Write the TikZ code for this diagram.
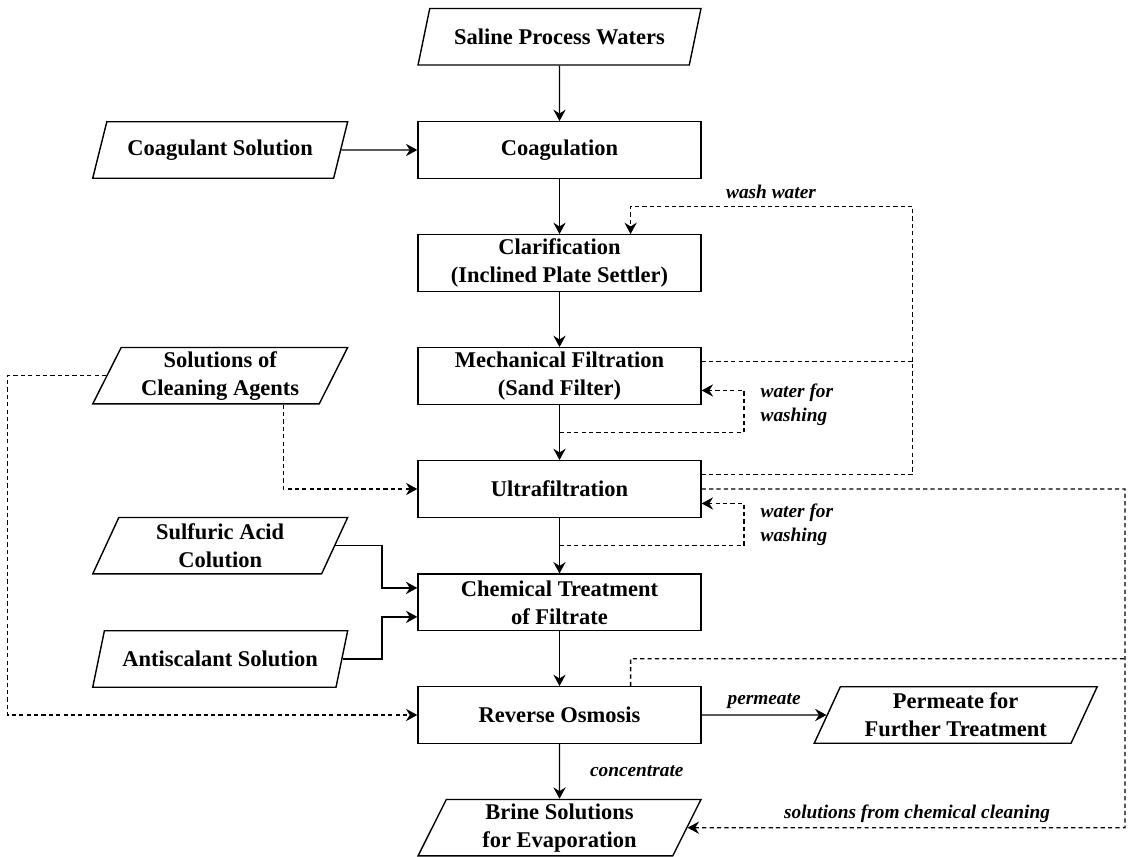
\documentclass[tikz,border=0pt]{standalone}
\usepackage{fontspec}
\setmainfont{Liberation Serif}
\usetikzlibrary{arrows.meta, calc, shapes.geometric, positioning}

\begin{document}
\begin{tikzpicture}[x=0.02cm, y=-0.02cm, line width=0.75pt,
    >={Stealth[length=6.5pt, width=7pt, inset=2.2pt]},
    stage/.style={draw, line width=0.8pt, minimum width=5.66cm, minimum height=1.13cm,
        inner sep=2pt, align=center, font=\bfseries\fontsize{12.8}{16}\selectfont},
    feed/.style={stage, trapezium, trapezium left angle=63, trapezium right angle=117,
        trapezium stretches body},
    dosing/.style={feed, minimum width=5.1cm},
    flowline/.style={->},
    washline/.style={dash pattern=on 2.4pt off 1.8pt},
    flowlabel/.style={inner sep=0pt, align=left, font=\bfseries\itshape\fontsize{11}{13.6}\selectfont}
]

    % =================================================================
    % 1. KHUNG ANH
    % =================================================================
    \useasboundingbox (0,0) rectangle (1131,857);

    % =================================================================
    % 2. CAC KHOI CONG DOAN CHINH (cot giua)
    % =================================================================
    \node[feed]  (saline) at (559.5,36.8)  {Saline Process Waters};
    \node[stage] (coag)   at (559.5,150)   {Coagulation};
    \node[stage] (clar)   at (559.5,263)   {Clarification\\(Inclined Plate Settler)};
    \node[stage] (mech)   at (559.5,376)   {Mechanical Filtration\\(Sand Filter)};
    \node[stage] (uf)     at (559.5,489)   {Ultrafiltration};
    \node[stage] (chem)   at (559.5,602.4) {Chemical Treatment\\of Filtrate};
    \node[stage] (ro)     at (559.5,715)   {Reverse Osmosis};
    \node[feed]  (brine)  at (559.5,827.7) {Brine Solutions\\for Evaporation};
    \node[feed]  (perm)   at (955.7,715)   {Permeate for\\Further Treatment};

    % =================================================================
    % 3. CAC DONG HOA CHAT (cot trai)
    % =================================================================
    \node[dosing] (coagsol) at (220.2,150)   {Coagulant Solution};
    \node[dosing] (clean)   at (220.2,375.7) {Solutions of\\Cleaning Agents};
    \node[dosing] (acid)    at (220.2,545.7) {Sulfuric Acid\\Colution};
    \node[dosing] (antisc)  at (220.2,659)   {Antiscalant Solution};

    % cac diem noi phu
    \coordinate (chemin1) at ($(chem.north west)!0.25!(chem.south west)$);
    \coordinate (chemin2) at ($(chem.north west)!0.75!(chem.south west)$);
    \coordinate (mechin)  at ($(mech.north east)!0.75!(mech.south east)$);
    \coordinate (mechout) at ($(mech.north east)!0.25!(mech.south east)$);
    \coordinate (ufin)    at ($(uf.north east)!0.75!(uf.south east)$);
    \coordinate (ufout)   at ($(uf.north east)!0.25!(uf.south east)$);
    \coordinate (clarin)  at ($(clar.north west)!0.75!(clar.north east)$);
    \coordinate (roout)   at ($(ro.north west)!0.75!(ro.north east)$);
    \coordinate (rojoin)  at ($(roout)!0.5!(chem.south -| roout)$);
    \coordinate (mloop)   at ($(mech.south)!0.5!(uf.north)$);
    \coordinate (uloop)   at ($(uf.south)!0.5!(chem.north)$);
    \coordinate (washtop) at (912.7,206.3);
    \coordinate (rightx)  at (1125,827.7);
    \coordinate (leftx)   at (7.3,715);
    \coordinate (ufeed)   at (283.3,489);

    % =================================================================
    % 4. DUONG DONG CHINH
    % =================================================================
    \draw[flowline] (saline) -- (coag);
    \draw[flowline] (coagsol.east) -- (coag.west);
    \draw[flowline] (coag) -- (clar);
    \draw[flowline] (clar) -- (mech);
    \draw[flowline] (mech) -- (uf);
    \draw[flowline] (uf) -- (chem);
    \draw[flowline] (chem) -- (ro);
    \draw[flowline] (ro) -- node[flowlabel, anchor=west, xshift=17pt] {concentrate} (brine);
    \draw[flowline] (ro.east) -- node[flowlabel, above=3pt] {permeate} (perm.west);
    \draw[flowline] (acid.east) -| ($(chemin1)+(-35.3,0)$) -- (chemin1);
    \draw[flowline] (antisc.east) -| ($(chemin2)+(-35.3,0)$) -- (chemin2);

    % =================================================================
    % 5. DUONG NUOC RUA VA DUNG DICH TAY RUA (net dut)
    % =================================================================
    \draw[washline] (mechout) -- (mechout -| washtop);
    \draw[washline, flowline] (ufout) -| (washtop) -| (clarin);
    \node[flowlabel] at (771,191.7) {wash water};

    \draw[washline, flowline] (mloop) -| ($(mechin)+(42.3,0)$) -- (mechin);
    \node[flowlabel, anchor=west] at (760,404.7) {water for\\washing};
    \draw[washline, flowline] (uloop) -| ($(ufin)+(42.3,0)$) -- (ufin);
    \node[flowlabel, anchor=west] at (760,524.7) {water for\\washing};

    \draw[washline, flowline] (clean.south -| ufeed) |- (uf.west);
    \draw[washline, flowline] (clean.west) -| (leftx) -- (ro.west);

    \draw[washline, flowline] (uf.east) -| (rightx) -- (brine.east);
    \draw[washline] (roout) -- (rojoin) -- (rojoin -| rightx);
    \node[flowlabel] at (917,813.3) {solutions from chemical cleaning};

\end{tikzpicture}
\end{document}
